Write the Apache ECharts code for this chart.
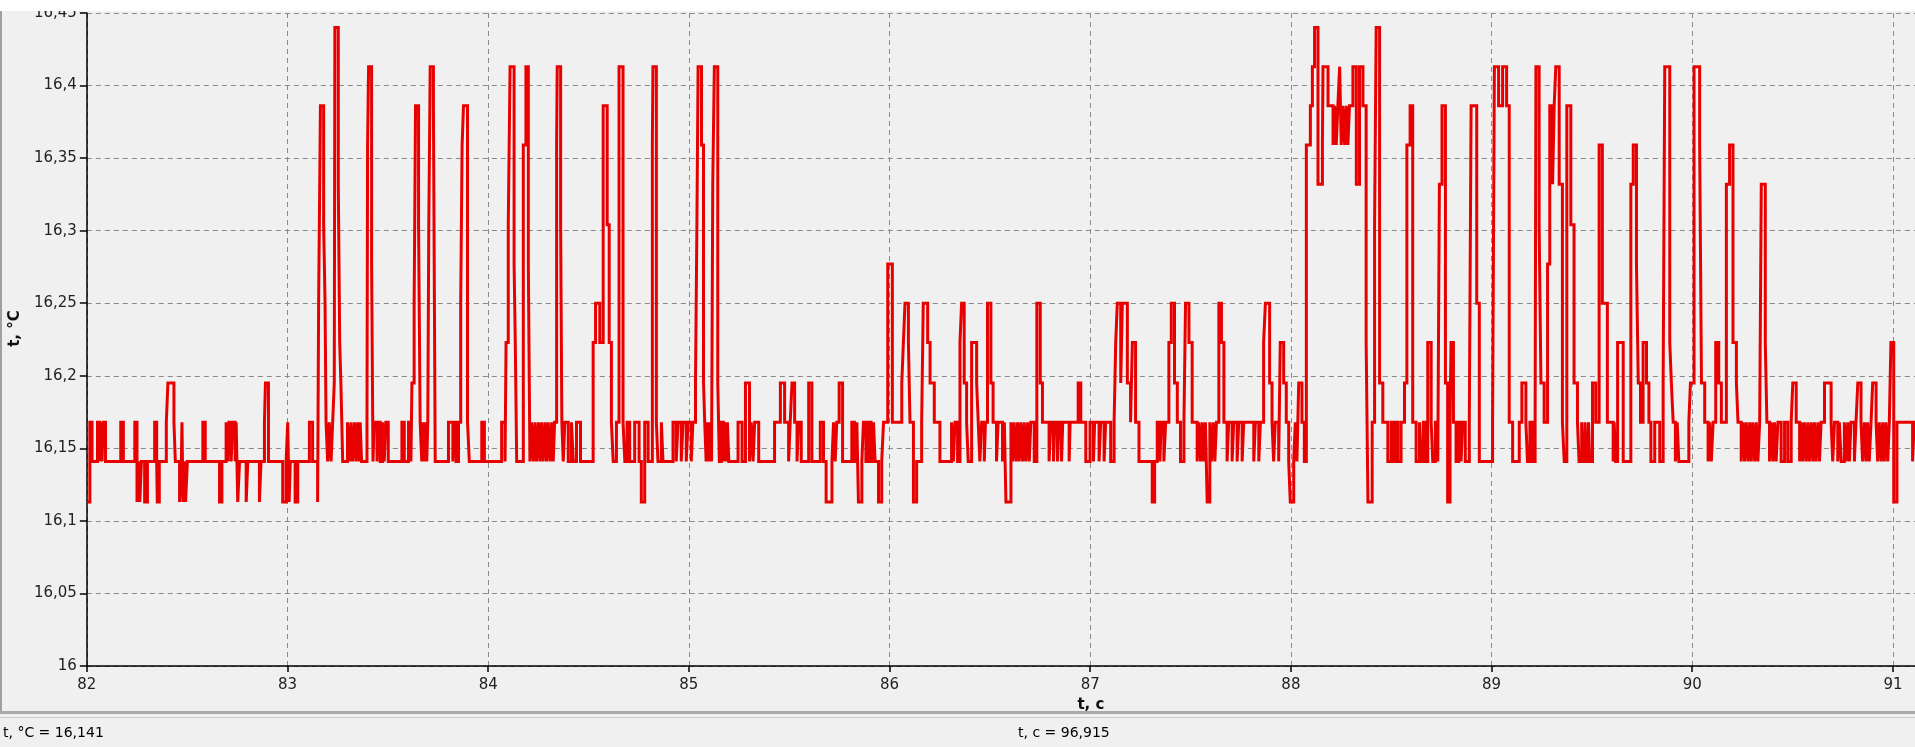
<!DOCTYPE html>
<html>
<head>
<meta charset="utf-8">
<script src="https://cdn.jsdelivr.net/npm/echarts@6/dist/echarts.min.js"></script>
<style>
html,body{margin:0;padding:0;background:#f0f0f0;}
#chart{width:1915px;height:747px;}
</style>
</head>
<body>
<div id="chart"></div>
<script>
// Change points of the step signal: [t, c ; t, °C]
const sec82 = [
[82.000,16.113],[82.015,16.168],[82.026,16.141],[82.053,16.168],[82.063,16.141],[82.068,16.168],[82.076,16.141],[82.081,16.168],[82.093,16.141],[82.169,16.168],[82.182,16.141],[82.239,16.168],[82.250,16.113],[82.259,16.141],[82.264,16.113],[82.272,16.141],[82.288,16.113],[82.302,16.141],[82.338,16.168],[82.348,16.141],[82.351,16.113],[82.361,16.141],[82.396,16.168],[82.404,16.195],[82.434,16.168],[82.441,16.141],[82.462,16.113],[82.471,16.141],[82.474,16.168],[82.479,16.113],[82.487,16.141],[82.492,16.113],[82.501,16.141],[82.578,16.168],[82.590,16.141],[82.661,16.113],[82.673,16.141],[82.694,16.168],[82.703,16.141],[82.708,16.168],[82.719,16.141],[82.728,16.168],[82.739,16.141],[82.744,16.168],[82.752,16.113],[82.761,16.141],[82.794,16.113],[82.802,16.141],[82.860,16.113],[82.868,16.141],[82.885,16.168],[82.890,16.195],[82.905,16.141],[82.976,16.113],[82.993,16.141]
];
const sec83 = [
[83.001,16.168],[83.008,16.113],[83.014,16.141],[83.038,16.113],[83.051,16.141],[83.109,16.168],[83.125,16.141],[83.150,16.113],[83.155,16.250],[83.164,16.386],[83.180,16.304],[83.187,16.250],[83.192,16.168],[83.200,16.141],[83.208,16.168],[83.217,16.141],[83.225,16.168],[83.233,16.195],[83.236,16.440],[83.253,16.332],[83.260,16.223],[83.266,16.195],[83.275,16.141],[83.299,16.168],[83.308,16.141],[83.316,16.168],[83.324,16.141],[83.333,16.168],[83.341,16.141],[83.349,16.168],[83.357,16.141],[83.362,16.168],[83.369,16.141],[83.396,16.168],[83.399,16.359],[83.404,16.413],[83.419,16.277],[83.426,16.141],[83.432,16.168],[83.446,16.141],[83.452,16.168],[83.462,16.141],[83.474,16.168],[83.482,16.141],[83.490,16.168],[83.502,16.141],
[83.570,16.168],[83.582,16.141],[83.603,16.168],[83.615,16.141],[83.620,16.195],[83.631,16.250],[83.638,16.386],[83.653,16.304],[83.661,16.168],[83.669,16.141],[83.674,16.168],[83.683,16.141],[83.688,16.168],[83.694,16.141],[83.699,16.168],[83.704,16.304],[83.711,16.413],[83.727,16.386],[83.736,16.141],[83.802,16.168],[83.824,16.141],[83.830,16.168],[83.840,16.141],[83.852,16.168],[83.863,16.250],[83.870,16.359],[83.877,16.386],[83.897,16.168],[83.906,16.141],[83.968,16.168],[83.981,16.141]
];
const sec84 = [
[84.067,16.168],[84.084,16.141],[84.089,16.223],[84.100,16.304],[84.109,16.413],[84.129,16.277],[84.135,16.223],[84.142,16.141],[84.175,16.359],[84.188,16.413],[84.200,16.277],[84.208,16.141],[84.216,16.168],[84.225,16.141],[84.233,16.168],[84.241,16.141],[84.250,16.168],[84.258,16.141],[84.266,16.168],[84.274,16.141],[84.283,16.168],[84.291,16.141],[84.299,16.168],[84.308,16.141],[84.316,16.168],[84.324,16.141],[84.331,16.168],[84.341,16.359],[84.344,16.413],[84.361,16.304],[84.367,16.168],[84.374,16.141],[84.382,16.168],[84.399,16.141],[84.415,16.168],[84.424,16.141],[84.440,16.168],[84.460,16.141],[84.523,16.223],[84.535,16.250],[84.556,16.223],[84.573,16.386],[84.593,16.304],[84.603,16.223],[84.614,16.168],[84.623,16.141],[84.639,16.168],[84.652,16.413],[84.672,16.168],[84.681,16.141],[84.692,16.168],[84.705,16.141],[84.730,16.168],[84.752,16.141],[84.763,16.113],[84.780,16.168],[84.797,16.141],[84.818,16.359],[84.821,16.413],[84.838,16.168],[84.846,16.141],[84.863,16.168],[84.871,16.141],[84.921,16.168],[84.937,16.141],[84.946,16.168],[84.962,16.141],[84.971,16.168],[84.987,16.141],[84.996,16.168]
];
const sec85 = [
[85.012,16.141],[85.020,16.168],[85.033,16.195],[85.040,16.304],[85.046,16.413],[85.063,16.359],[85.073,16.195],[85.079,16.168],[85.086,16.141],[85.093,16.168],[85.099,16.141],[85.106,16.168],[85.113,16.141],[85.119,16.332],[85.127,16.413],[85.144,16.195],[85.152,16.141],[85.162,16.168],[85.172,16.141],[85.179,16.168],[85.187,16.141],[85.192,16.168],[85.199,16.141],[85.245,16.168],[85.265,16.141],[85.282,16.195],[85.302,16.141],[85.311,16.168],[85.320,16.141],[85.328,16.168],[85.348,16.141],[85.427,16.168],[85.456,16.195],[85.477,16.168],[85.497,16.141],[85.505,16.168],[85.514,16.195],[85.527,16.168],[85.539,16.141],[85.547,16.168],[85.560,16.141],[85.597,16.195],[85.613,16.141],[85.655,16.168],[85.671,16.141],[85.684,16.113],[85.713,16.141],[85.721,16.168],[85.729,16.141],[85.737,16.168],[85.749,16.195],[85.766,16.141],[85.812,16.168],[85.825,16.141],[85.837,16.168],[85.845,16.113],[85.862,16.141],[85.870,16.168],[85.882,16.141],[85.895,16.168],[85.908,16.141],[85.920,16.168],[85.928,16.141],[85.945,16.113],[85.961,16.141],[85.970,16.168],[85.991,16.277]
];
const sec86 = [
[86.014,16.168],[86.061,16.195],[86.069,16.223],[86.077,16.250],[86.094,16.223],[86.102,16.168],[86.119,16.113],[86.135,16.141],[86.160,16.168],[86.168,16.250],[86.190,16.223],[86.202,16.195],[86.223,16.168],[86.251,16.141],[86.309,16.168],[86.318,16.141],[86.326,16.168],[86.339,16.141],[86.351,16.223],[86.359,16.250],[86.372,16.195],[86.384,16.168],[86.392,16.141],[86.409,16.223],[86.434,16.195],[86.442,16.168],[86.450,16.141],[86.459,16.168],[86.472,16.141],[86.478,16.168],[86.488,16.250],[86.505,16.195],[86.516,16.168],[86.533,16.141],[86.541,16.168],
[86.563,16.141],[86.572,16.168],[86.580,16.113],[86.605,16.168],[86.613,16.141],[86.621,16.168],[86.630,16.141],[86.638,16.168],[86.646,16.141],[86.654,16.168],[86.663,16.141],[86.671,16.168],[86.679,16.141],[86.688,16.168],[86.696,16.141],[86.704,16.168],[86.721,16.141],[86.734,16.250],[86.751,16.195],[86.762,16.168],[86.795,16.141],[86.804,16.168],[86.817,16.141],[86.824,16.168],[86.837,16.141],[86.845,16.168],[86.857,16.141],[86.863,16.168],[86.895,16.141],[86.900,16.168],[86.940,16.195],[86.953,16.168],[86.978,16.141],[86.999,16.168]
];
const sec87 = [
[87.016,16.141],[87.022,16.168],[87.044,16.141],[87.052,16.168],[87.069,16.141],[87.077,16.168],[87.102,16.141],[87.119,16.168],[87.127,16.223],[87.135,16.250],[87.152,16.195],[87.160,16.250],[87.185,16.195],[87.201,16.168],[87.210,16.223],[87.226,16.168],[87.243,16.141],[87.309,16.113],[87.321,16.141],[87.334,16.168],[87.347,16.141],[87.354,16.168],[87.367,16.141],[87.376,16.168],[87.392,16.223],[87.404,16.250],[87.420,16.195],[87.434,16.168],[87.450,16.141],[87.467,16.168],[87.475,16.250],[87.492,16.223],[87.508,16.168],[87.533,16.141],[87.541,16.168],[87.550,16.141],[87.558,16.168],[87.566,16.141],[87.574,16.168],[87.583,16.113],[87.596,16.168],[87.604,16.141],[87.613,16.168],[87.621,16.141],[87.629,16.168],[87.641,16.250],[87.654,16.223],[87.666,16.168],[87.682,16.141],[87.690,16.168],[87.707,16.141],[87.715,16.168],[87.732,16.141],[87.740,16.168],[87.757,16.141],[87.765,16.168],[87.815,16.141],[87.823,16.168],[87.840,16.141],[87.848,16.168],[87.864,16.223],[87.873,16.250],[87.894,16.195],[87.906,16.168],[87.914,16.141],[87.922,16.168],[87.939,16.141],[87.947,16.223],[87.964,16.195],[87.977,16.168],[87.989,16.141],[87.997,16.113]
];
const sec88 = [
[88.014,16.141],[88.022,16.168],[88.030,16.141],[88.039,16.195],[88.055,16.168],[88.067,16.141],[88.077,16.359],[88.097,16.386],[88.107,16.413],[88.118,16.440],[88.135,16.332],[88.157,16.359],[88.160,16.413],[88.185,16.386],[88.210,16.359],[88.218,16.386],[88.226,16.359],[88.234,16.386],[88.243,16.413],[88.251,16.359],[88.259,16.386],[88.268,16.359],[88.276,16.386],[88.284,16.359],[88.292,16.386],[88.309,16.413],[88.326,16.332],[88.342,16.413],[88.359,16.386],[88.375,16.223],[88.384,16.113],[88.405,16.168],[88.417,16.304],[88.425,16.440],[88.442,16.195],[88.458,16.168],[88.483,16.141],[88.500,16.168],[88.511,16.141],[88.521,16.168],[88.533,16.141],[88.549,16.168],[88.566,16.195],[88.578,16.359],[88.594,16.386],[88.607,16.168],[88.624,16.141],[88.641,16.168],[88.649,16.141],[88.660,16.168],[88.670,16.141],[88.682,16.223],[88.699,16.168],[88.707,16.141],[88.720,16.168],[88.732,16.141],[88.740,16.332],[88.753,16.386],[88.770,16.195],[88.781,16.113],[88.793,16.168],[88.798,16.223],[88.810,16.168],[88.823,16.141],[88.836,16.168],[88.848,16.141],[88.856,16.168],[88.869,16.141],[88.889,16.168],[88.898,16.386],[88.926,16.250],[88.939,16.141]
];
const sec89 = [
[89.005,16.168],[89.014,16.413],[89.035,16.386],[89.055,16.413],[89.075,16.386],[89.088,16.168],[89.105,16.141],[89.138,16.168],[89.151,16.195],[89.171,16.168],[89.179,16.141],[89.191,16.168],[89.204,16.141],[89.217,16.168],[89.221,16.413],[89.237,16.304],[89.246,16.195],[89.262,16.168],[89.279,16.277],[89.290,16.386],[89.304,16.332],[89.312,16.386],[89.320,16.413],[89.337,16.332],[89.353,16.168],[89.362,16.141],[89.375,16.386],[89.395,16.304],[89.411,16.195],[89.428,16.168],[89.436,16.141],[89.449,16.168],[89.456,16.141],[89.466,16.168],[89.473,16.141],[89.483,16.168],[89.489,16.141],[89.503,16.195],[89.519,16.168],[89.536,16.359],[89.552,16.250],[89.577,16.168],
[89.606,16.141],[89.611,16.168],[89.618,16.141],[89.628,16.223],[89.656,16.141],[89.694,16.332],[89.706,16.359],[89.722,16.277],[89.731,16.195],[89.742,16.168],[89.755,16.223],[89.772,16.195],[89.784,16.168],[89.794,16.141],[89.813,16.168],[89.838,16.141],[89.855,16.195],[89.863,16.413],[89.888,16.223],[89.896,16.195],[89.905,16.168],[89.916,16.141],[89.925,16.168],[89.933,16.141],[89.983,16.168],[89.991,16.195]
];
const sec90 = [
[90.009,16.413],[90.037,16.359],[90.046,16.195],[90.062,16.168],[90.079,16.141],[90.087,16.168],[90.095,16.141],[90.104,16.168],[90.117,16.223],[90.132,16.195],[90.145,16.168],[90.170,16.332],[90.186,16.359],[90.203,16.223],[90.220,16.195],[90.228,16.168],[90.244,16.141],[90.253,16.168],[90.261,16.141],[90.269,16.168],[90.278,16.141],[90.286,16.168],[90.294,16.141],[90.302,16.168],[90.311,16.141],[90.319,16.168],[90.327,16.141],[90.336,16.168],[90.344,16.332],[90.364,16.223],[90.372,16.168],[90.385,16.141],[90.394,16.168],[90.402,16.141],[90.410,16.168],[90.418,16.141],[90.427,16.168],[90.443,16.141],[90.460,16.168],[90.476,16.141],[90.493,16.168],[90.501,16.195],[90.518,16.168],[90.535,16.141],[90.543,16.168],[90.551,16.141],[90.559,16.168],[90.568,16.141],[90.576,16.168],[90.584,16.141],[90.593,16.168],[90.601,16.141],[90.609,16.168],[90.617,16.141],[90.626,16.168],[90.634,16.141],[90.642,16.168],[90.659,16.195],[90.692,16.168],[90.700,16.141],[90.709,16.168],[90.725,16.141],[90.733,16.168],[90.742,16.141],[90.758,16.168],[90.767,16.141],[90.775,16.168],[90.783,16.141],[90.791,16.168],[90.808,16.141],[90.816,16.168],[90.825,16.195],[90.841,16.168],[90.849,16.141],[90.858,16.168],[90.866,16.141],[90.874,16.168],[90.882,16.141],[90.891,16.168],[90.899,16.195],[90.916,16.168],[90.924,16.141],[90.932,16.168],[90.941,16.141],[90.949,16.168],[90.957,16.141],[90.965,16.168],[90.974,16.141],[90.982,16.168],[90.990,16.223]
];
const sec91 = [[91.004,16.113],[91.020,16.168],[91.098,16.141],[91.106,16.168],[91.110,16.168]];

const xTickLabels = ['82','83','84','85','86','87','88','89','90','91'];
const yTickLabels = ['16','16,05','16,1','16,15','16,2','16,25','16,3','16,35','16,4','16,45'];
const xName = 't, c';
const yName = 't, \u00B0C';
const statusLeft = 't, \u00B0C = 16,141';
const statusRight = 't, c = 96,915';

const FONT = 'DejaVu Sans';
const series = [].concat(sec82, sec83, sec84, sec85, sec86, sec87, sec88, sec89, sec90, sec91);

const chart = echarts.init(document.getElementById('chart'), null, {renderer: 'canvas'});
chart.setOption({
  animation: false,
  backgroundColor: '#f0f0f0',
  textStyle: {fontFamily: FONT},
  grid: {left: 81, top: 13, right: 0, bottom: 81, containLabel: false},
  xAxis: {
    type: 'value', min: 82, max: 91.11, interval: 1,
    name: xName, nameLocation: 'middle', nameGap: 30,
    nameTextStyle: {fontFamily: FONT, fontSize: 15, fontWeight: 'bold', color: '#111', padding: [0, 0, 0, 180]},
    axisLine: {show: true, onZero: false, lineStyle: {color: '#000', width: 1.5}},
    axisTick: {show: true, length: 6, lineStyle: {color: '#000', width: 1.5}},
    axisLabel: {
      margin: 12, fontFamily: FONT, fontSize: 15, color: '#222', showMaxLabel: false,
      formatter: function (v) { const i = xTickLabels.indexOf(String(Math.round(v))); return (Math.abs(v - Math.round(v)) < 1e-6 && i >= 0) ? xTickLabels[i] : ''; }
    },
    splitLine: {show: true, lineStyle: {color: '#8a8a8a', type: [5, 4], width: 1}}
  },
  yAxis: {
    type: 'value', min: 16, max: 16.45, interval: 0.05,
    name: yName, nameLocation: 'middle', nameGap: 62, nameRotate: 90,
    nameTextStyle: {fontFamily: FONT, fontSize: 15, fontWeight: 'bold', color: '#111', padding: [0, 0, 0, 22]},
    axisLine: {show: true, lineStyle: {color: '#000', width: 1.5}},
    axisTick: {show: true, length: 7, lineStyle: {color: '#000', width: 1.5}},
    axisLabel: {
      margin: 10, fontFamily: FONT, fontSize: 15, color: '#222',
      formatter: function (v) { const k = Math.round((v - 16) / 0.05); return yTickLabels[k] !== undefined ? yTickLabels[k] : ''; }
    },
    splitLine: {show: true, lineStyle: {color: '#8a8a8a', type: [5, 4], width: 1}}
  },
  series: [{
    type: 'line', step: 'end', data: series, showSymbol: false, symbol: 'none',
    lineStyle: {color: '#e80000', width: 3, join: 'miter'}, clip: true, z: 5
  }],
  graphic: [
    {type: 'rect', z: 100, shape: {x: 0, y: 0, width: 1915, height: 11}, style: {fill: '#ffffff'}},
    {type: 'rect', z: 100, shape: {x: 0, y: 11, width: 2, height: 700}, style: {fill: '#a0a0a0'}},
    {type: 'rect', z: 100, shape: {x: 0, y: 711, width: 1915, height: 3}, style: {fill: '#a9a9a9'}},
    {type: 'rect', z: 100, shape: {x: 0, y: 717, width: 1915, height: 1}, style: {fill: '#cccccc'}},
    {type: 'text', z: 100, style: {x: 3, y: 733, text: statusLeft, font: '14px "DejaVu Sans"', fill: '#000', verticalAlign: 'middle'}},
    {type: 'text', z: 100, style: {x: 1018, y: 733, text: statusRight, font: '14px "DejaVu Sans"', fill: '#000', verticalAlign: 'middle'}}
  ]
});
</script>
</body>
</html>
